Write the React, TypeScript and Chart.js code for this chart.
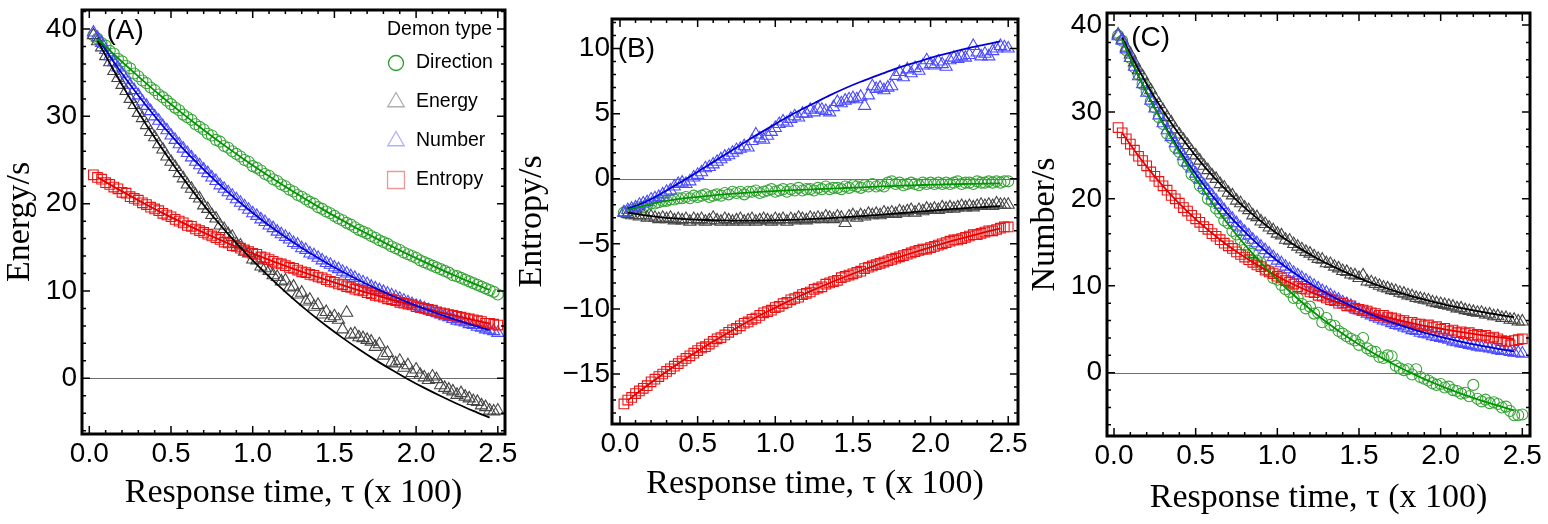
import React, { useEffect, useRef } from 'react';
import { Chart, registerables } from 'chart.js';

Chart.register(...registerables);

// ---------------- data ----------------
// response time grid of the simulated points (x 100)
const tau: number[] = Array.from({ length: 100 }, (_, i) => Math.round((i + 1) * 25) / 1000);
// grid on which the fitted curves are drawn
const fitTau = [0.05, 0.15, 0.25, 0.35, 0.45, 0.55, 0.65, 0.75, 0.85, 0.95, 1.05, 1.15, 1.25,
  1.35, 1.45, 1.55, 1.65, 1.75, 1.85, 1.95, 2.05, 2.15, 2.25, 2.35, 2.45];
const xTickValues = [0, 0.5, 1, 1.5, 2, 2.5];
const seriesNames = ['Direction', 'Energy', 'Number', 'Entropy'];
const legendTitle = 'Demon type';
const xAxisTitle = 'Response time, \u03C4 (x 100)';

// ---- Panel A : Energy/s ----
const ticksA = [0, 10, 20, 30, 40];
const directionA = [
  39.3, 38.9, 38.4, 38.1, 37.5, 37.2, 36.6, 36.3, 35.8, 35.5,
  34.9, 34.6, 34.1, 33.8, 33.3, 33.0, 32.5, 32.2, 31.8, 31.4,
  31.0, 30.7, 30.2, 29.9, 29.6, 29.1, 28.8, 28.5, 28.0, 27.8,
  27.3, 27.1, 26.6, 26.4, 26.0, 25.7, 25.4, 25.0, 24.8, 24.3,
  24.1, 23.8, 23.4, 23.2, 22.8, 22.6, 22.2, 22.0, 21.6, 21.4,
  21.0, 20.8, 20.5, 20.2, 20.0, 19.6, 19.4, 19.1, 18.9, 18.6,
  18.3, 18.1, 17.8, 17.6, 17.3, 17.0, 16.8, 16.6, 16.3, 16.1,
  15.8, 15.6, 15.4, 15.1, 14.9, 14.7, 14.4, 14.2, 14.0, 13.8,
  13.5, 13.3, 13.1, 12.9, 12.7, 12.5, 12.3, 12.1, 11.8, 11.7,
  11.5, 11.3, 11.1, 10.9, 10.7, 10.5, 10.3, 10.1, 9.9, 9.6];
const energyA = [
  39.3, 38.6, 37.9, 36.9, 36.2, 35.2, 34.4, 33.6, 32.9, 32.0,
  31.3, 30.4, 29.8, 29.0, 28.2, 27.6, 26.8, 26.2, 25.4, 24.8,
  24.2, 23.5, 22.9, 22.2, 21.7, 21.0, 20.6, 19.8, 19.4, 18.7,
  18.3, 17.5, 17.1, 16.5, 16.2, 15.4, 15.2, 14.5, 14.3, 13.6,
  13.5, 12.8, 12.6, 12.3, 11.8, 11.6, 11.1, 11.2, 10.4, 10.5,
  9.6, 9.8, 8.8, 9.0, 8.2, 8.4, 7.3, 7.6, 6.9, 7.1,
  6.7, 5.6, 7.5, 5.0, 5.1, 4.7, 4.6, 4.4, 4.2, 3.6,
  3.9, 2.6, 2.9, 1.8, 1.7, 2.0, 1.2, 1.5, 0.6, 1.0,
  0.4, 0.1, -0.2, 0.2, -0.1, -0.8, -1.1, -1.3, -1.5, -1.9,
  -1.7, -2.1, -2.3, -2.6, -2.7, -3.1, -3.3, -3.7, -3.8, -3.7];
const numberA = [
  39.6, 39.0, 38.4, 37.6, 36.9, 36.2, 35.6, 34.9, 34.2, 33.6,
  33.0, 32.4, 31.7, 31.2, 30.6, 30.0, 29.5, 28.9, 28.4, 27.8,
  27.3, 26.8, 26.3, 25.8, 25.3, 24.8, 24.4, 23.9, 23.5, 23.0,
  22.6, 22.1, 21.7, 21.3, 20.9, 20.5, 20.1, 19.7, 19.3, 18.9,
  18.6, 18.2, 17.9, 17.5, 17.2, 16.8, 16.5, 16.2, 15.9, 15.5,
  15.3, 14.9, 14.7, 14.3, 14.1, 13.8, 13.5, 13.2, 13.0, 12.7,
  12.5, 12.2, 12.0, 11.7, 11.5, 11.2, 11.0, 10.8, 10.5, 10.3,
  10.1, 9.9, 9.7, 9.5, 9.3, 9.1, 8.9, 8.7, 8.5, 8.3,
  8.2, 8.0, 7.8, 7.6, 7.5, 7.3, 7.1, 7.0, 6.8, 6.6,
  6.5, 6.4, 6.2, 6.1, 5.9, 5.8, 5.6, 5.5, 5.4, 5.2];
const entropyA = [
  23.3, 23.0, 22.8, 22.4, 22.2, 21.9, 21.7, 21.3, 21.2, 20.8,
  20.6, 20.4, 20.1, 19.9, 19.6, 19.4, 19.2, 18.9, 18.7, 18.5,
  18.2, 18.0, 17.8, 17.5, 17.4, 17.1, 16.9, 16.7, 16.5, 16.3,
  16.1, 15.9, 15.6, 15.5, 15.2, 15.1, 14.9, 14.7, 14.5, 14.3,
  14.2, 13.9, 13.8, 13.6, 13.4, 13.2, 13.1, 12.9, 12.7, 12.6,
  12.4, 12.2, 12.1, 11.9, 11.8, 11.6, 11.5, 11.3, 11.1, 11.0,
  10.8, 10.7, 10.5, 10.4, 10.2, 10.1, 10.0, 9.8, 9.7, 9.5,
  9.4, 9.3, 9.1, 9.0, 8.9, 8.7, 8.6, 8.5, 8.4, 8.2,
  8.1, 8.0, 7.9, 7.8, 7.6, 7.5, 7.4, 7.3, 7.2, 7.1,
  7.0, 6.9, 6.8, 6.7, 6.6, 6.5, 6.3, 6.3, 6.2, 6.1];
const directionFitA = [38.89, 37.11, 35.40, 33.75, 32.16, 30.63, 29.15, 27.73, 26.36, 25.04, 23.77, 22.54, 21.36,
  20.22, 19.12, 18.07, 17.05, 16.07, 15.12, 14.20, 13.33, 12.48, 11.66, 10.88, 10.11];
const energyFitA = [38.69, 35.25, 32.03, 29.00, 26.17, 23.52, 21.03, 18.70, 16.52, 14.47, 12.55, 10.76, 9.07,
  7.49, 6.01, 4.63, 3.33, 2.11, 0.97, -0.10, -1.10, -2.03, -2.91, -3.73, -4.51];
const numberFitA = [39.02, 36.22, 33.61, 31.18, 28.91, 26.80, 24.83, 23.00, 21.29, 19.70, 18.22, 16.84, 15.55,
  14.35, 13.24, 12.20, 11.23, 10.32, 9.48, 8.70, 7.97, 7.29, 6.65, 6.06, 5.51];
const entropyFitA = [23.03, 21.94, 20.89, 19.88, 18.92, 18.00, 17.11, 16.27, 15.46, 14.68, 13.94, 13.22, 12.54,
  11.89, 11.26, 10.66, 10.08, 9.53, 9.01, 8.50, 8.02, 7.55, 7.11, 6.68, 6.28];

// ---- Panel B : Entropy/s ----
const ticksB = [-15, -10, -5, 0, 5, 10];
const directionB = [
  -2.6, -2.5, -2.4, -2.3, -2.2, -2.2, -2.0, -1.9, -1.9, -1.8,
  -1.7, -1.7, -1.6, -1.6, -1.5, -1.5, -1.4, -1.5, -1.3, -1.4,
  -1.3, -1.2, -1.4, -1.3, -1.2, -1.3, -1.1, -1.2, -1.0, -1.1,
  -1.0, -1.2, -1.0, -1.0, -0.9, -1.1, -1.0, -0.9, -0.8, -1.0,
  -0.9, -0.8, -1.0, -0.8, -0.9, -0.7, -0.9, -0.8, -0.8, -0.9,
  -0.7, -0.8, -0.6, -0.8, -0.7, -0.7, -0.8, -0.6, -0.7, -0.5,
  -0.6, -0.7, -0.5, -0.6, -0.4, -0.6, -0.5, -0.6, -0.3, -0.2,
  -0.4, -0.3, -0.5, -0.4, -0.3, -0.4, -0.5, -0.3, -0.4, -0.3,
  -0.4, -0.3, -0.4, -0.3, -0.4, -0.3, -0.2, -0.4, -0.3, -0.3,
  -0.4, -0.2, -0.3, -0.3, -0.2, -0.3, -0.2, -0.3, -0.2, -0.2];
const energyB = [
  -2.6, -2.7, -2.8, -2.8, -2.9, -2.8, -3.0, -2.9, -3.0, -3.1,
  -3.0, -3.1, -3.0, -3.2, -3.1, -3.2, -3.1, -3.3, -3.1, -3.2,
  -3.1, -3.3, -3.2, -3.0, -3.2, -3.3, -3.1, -3.2, -3.3, -3.2,
  -3.1, -3.3, -3.2, -3.1, -3.3, -3.2, -3.1, -3.2, -3.3, -3.1,
  -3.2, -3.1, -3.3, -3.1, -3.2, -3.0, -3.1, -3.2, -3.0, -3.1,
  -3.0, -3.1, -2.9, -3.0, -3.1, -2.9, -3.0, -3.4, -2.9, -2.8,
  -3.0, -2.8, -2.9, -2.7, -2.8, -2.7, -2.8, -2.6, -2.7, -2.6,
  -2.7, -2.5, -2.6, -2.5, -2.4, -2.6, -2.4, -2.5, -2.3, -2.4,
  -2.3, -2.4, -2.2, -2.3, -2.2, -2.3, -2.2, -2.1, -2.2, -2.1,
  -2.2, -2.1, -2.0, -2.1, -2.0, -2.1, -1.9, -2.0, -2.0, -2.0];
const numberB = [
  -2.6, -2.4, -2.3, -2.2, -2.0, -1.9, -1.8, -1.6, -1.5, -1.4,
  -1.2, -1.0, -0.9, -0.6, -0.4, -0.3, -0.4, -0.2, 0.1, 0.3,
  0.5, 0.8, 0.9, 1.1, 1.3, 1.5, 1.7, 1.8, 2.0, 2.2,
  2.3, 2.5, 2.4, 2.9, 3.4, 3.1, 3.0, 3.3, 3.6, 3.9,
  4.2, 4.4, 4.3, 4.6, 4.8, 4.7, 5.0, 5.0, 5.3, 5.1,
  5.4, 5.3, 5.2, 5.1, 5.5, 5.9, 5.8, 6.0, 6.1, 6.2,
  6.1, 6.3, 5.6, 6.4, 7.1, 6.9, 7.0, 6.8, 7.0, 7.1,
  7.9, 8.2, 7.8, 8.4, 8.1, 8.5, 8.3, 8.7, 9.1, 8.8,
  8.7, 9.0, 8.8, 8.6, 9.1, 9.3, 9.2, 9.4, 9.3, 9.5,
  10.2, 9.7, 9.4, 9.6, 9.4, 9.8, 10.0, 10.2, 10.1, 10.0];
const entropyB = [
  -17.3, -17.0, -16.8, -16.5, -16.3, -16.1, -15.9, -15.6, -15.4, -15.2,
  -15.0, -14.8, -14.6, -14.4, -14.2, -14.0, -13.8, -13.6, -13.4, -13.2,
  -13.0, -12.9, -12.7, -12.5, -12.3, -12.2, -12.0, -11.8, -11.6, -11.5,
  -11.3, -11.1, -11.0, -10.8, -10.7, -10.5, -10.3, -10.2, -10.1, -9.9,
  -9.8, -9.6, -9.5, -9.3, -9.2, -9.1, -8.9, -8.8, -8.7, -8.5,
  -8.4, -8.3, -8.1, -8.0, -7.9, -7.8, -7.6, -7.5, -7.4, -7.3,
  -7.2, -7.1, -6.9, -6.8, -6.7, -6.6, -6.5, -6.4, -6.3, -6.2,
  -6.1, -6.0, -5.9, -5.8, -5.7, -5.6, -5.5, -5.4, -5.4, -5.3,
  -5.2, -5.1, -5.0, -4.9, -4.8, -4.7, -4.7, -4.6, -4.5, -4.4,
  -4.3, -4.3, -4.2, -4.1, -4.0, -4.0, -3.9, -3.8, -3.7, -3.7];
const directionFitB = [-2.40, -2.10, -1.80, -1.60, -1.45, -1.33, -1.22, -1.12, -1.04, -0.97, -0.91, -0.86, -0.81,
  -0.76, -0.71, -0.66, -0.61, -0.56, -0.52, -0.48, -0.45, -0.42, -0.40, -0.38, -0.36];
const energyFitB = [-2.60, -2.80, -2.95, -3.05, -3.12, -3.17, -3.20, -3.22, -3.22, -3.21, -3.18, -3.14, -3.09,
  -3.03, -2.96, -2.88, -2.79, -2.70, -2.60, -2.50, -2.41, -2.32, -2.24, -2.17, -2.10];
const numberFitB = [-2.30, -1.85, -1.25, -0.55, 0.15, 0.90, 1.65, 2.40, 3.15, 3.85, 4.55, 5.20, 5.80,
  6.40, 6.95, 7.45, 7.90, 8.35, 8.75, 9.10, 9.45, 9.75, 10.05, 10.30, 10.55];
const entropyFitB = [-17.02, -16.11, -15.23, -14.40, -13.61, -12.86, -12.15, -11.46, -10.81, -10.20, -9.61, -9.05, -8.52,
  -8.01, -7.53, -7.07, -6.63, -6.22, -5.82, -5.44, -5.08, -4.74, -4.42, -4.11, -3.81];

// ---- Panel C : Number/s ----
const ticksC = [0, 10, 20, 30, 40];
const directionC = [
  38.8, 38.2, 37.1, 36.2, 35.1, 34.3, 33.2, 32.4, 31.2, 30.5,
  29.4, 28.6, 27.5, 27.0, 25.9, 25.4, 24.3, 23.9, 22.8, 22.5,
  21.5, 21.1, 20.0, 19.7, 18.9, 18.4, 17.5, 17.2, 16.3, 15.9,
  15.3, 14.7, 14.0, 13.7, 12.9, 12.6, 11.9, 11.7, 10.9, 10.7,
  10.1, 9.6, 9.3, 8.6, 8.6, 7.9, 7.4, 7.6, 6.8, 6.9,
  5.8, 6.3, 5.5, 5.4, 4.8, 4.5, 4.2, 3.9, 3.7, 3.2,
  4.0, 2.8, 2.5, 2.4, 1.8, 1.7, 2.0, 1.9, 0.8, 0.5,
  0.3, 0.4, -0.2, 0.4, -0.5, -0.7, -0.9, -1.2, -1.4, -1.3,
  -1.7, -1.6, -2.0, -2.1, -2.4, -2.3, -2.7, -1.4, -3.0, -3.3,
  -3.1, -3.5, -3.4, -3.6, -4.0, -3.9, -4.4, -4.9, -4.9, -4.8];
const energyC = [
  38.9, 38.3, 37.4, 36.6, 35.7, 34.8, 34.1, 33.2, 32.5, 31.6,
  30.9, 30.2, 29.4, 28.8, 28.0, 27.4, 26.8, 26.2, 25.5, 25.0,
  24.4, 23.8, 23.3, 22.7, 22.3, 21.7, 21.3, 20.7, 20.4, 19.8,
  19.5, 19.0, 18.7, 18.1, 17.9, 17.4, 17.1, 16.7, 16.4, 16.0,
  15.8, 15.3, 15.2, 14.8, 14.5, 14.2, 13.9, 13.7, 13.4, 13.1,
  13.0, 12.6, 12.5, 12.2, 12.0, 11.7, 11.6, 11.3, 11.2, 10.9,
  11.2, 10.5, 10.4, 10.2, 10.0, 9.8, 9.7, 9.5, 9.4, 9.2,
  9.1, 8.9, 8.8, 8.6, 8.5, 8.4, 8.3, 8.1, 8.0, 7.9,
  7.8, 7.7, 7.6, 7.4, 7.4, 7.2, 7.1, 7.0, 6.9, 6.9,
  6.7, 6.7, 6.5, 6.5, 6.3, 6.3, 6.1, 6.1, 5.9, 5.9];
const numberC = [
  38.7, 38.2, 37.2, 36.2, 35.2, 34.1, 33.2, 32.2, 31.3, 30.4,
  29.6, 28.7, 27.9, 27.1, 26.4, 25.6, 24.9, 24.2, 23.5, 22.9,
  22.2, 21.6, 21.0, 20.4, 19.8, 19.3, 18.7, 18.2, 17.7, 17.2,
  16.7, 16.2, 15.8, 15.3, 14.9, 14.5, 14.1, 13.7, 13.3, 12.9,
  12.6, 12.2, 11.9, 11.5, 11.2, 10.9, 10.6, 10.3, 10.0, 9.7,
  9.4, 9.2, 8.9, 8.6, 8.4, 8.1, 7.9, 7.7, 7.4, 7.2,
  7.0, 6.8, 6.6, 6.4, 6.2, 6.0, 5.9, 5.7, 5.5, 5.4,
  5.2, 5.1, 4.9, 4.8, 4.6, 4.5, 4.4, 4.2, 4.1, 4.0,
  3.9, 3.8, 3.6, 3.5, 3.4, 3.3, 3.2, 3.1, 3.0, 2.9,
  2.9, 2.8, 2.7, 2.6, 2.5, 2.5, 2.4, 2.3, 2.3, 2.2];
const entropyC = [
  28.2, 27.6, 26.9, 26.3, 25.6, 24.9, 24.4, 23.8, 23.1, 22.6,
  22.0, 21.5, 21.0, 20.4, 20.0, 19.5, 19.0, 18.6, 18.1, 17.7,
  17.3, 16.8, 16.5, 16.0, 15.7, 15.3, 14.9, 14.6, 14.3, 13.9,
  13.6, 13.3, 13.0, 12.7, 12.4, 12.2, 11.8, 11.6, 11.4, 11.1,
  10.9, 10.6, 10.4, 10.2, 9.9, 9.7, 9.6, 9.3, 9.2, 8.9,
  8.8, 8.6, 8.4, 8.3, 8.0, 8.0, 7.7, 7.7, 7.4, 7.3,
  7.2, 7.1, 6.9, 6.8, 6.6, 6.6, 6.4, 6.3, 6.2, 6.0,
  6.0, 5.8, 5.8, 5.6, 5.6, 5.4, 5.5, 5.2, 5.3, 5.0,
  5.1, 4.8, 4.9, 4.6, 4.7, 4.5, 4.6, 4.3, 4.4, 4.2,
  4.3, 4.0, 4.1, 3.9, 3.7, 3.6, 3.2, 3.7, 3.8, 3.9];
const directionFitC = [38.30, 34.18, 30.41, 26.96, 23.80, 20.92, 18.28, 15.87, 13.66, 11.64, 9.80, 8.10, 6.56,
  5.15, 3.85, 2.67, 1.59, 0.60, -0.30, -1.13, -1.89, -2.58, -3.21, -3.79, -4.33];
const energyFitC = [38.53, 34.89, 31.64, 28.73, 26.13, 23.80, 21.72, 19.85, 18.18, 16.69, 15.36, 14.16, 13.09,
  12.14, 11.28, 10.51, 9.83, 9.22, 8.66, 8.18, 7.73, 7.34, 6.99, 6.68, 6.39];
const numberFitC = [38.25, 34.11, 30.43, 27.14, 24.20, 21.59, 19.25, 17.17, 15.32, 13.66, 12.18, 10.87, 9.69,
  8.64, 7.71, 6.88, 6.13, 5.47, 4.88, 4.35, 3.88, 3.46, 3.09, 2.75, 2.45];
const entropyFitC = [27.57, 24.93, 22.56, 20.44, 18.54, 16.83, 15.30, 13.93, 12.70, 11.60, 10.61, 9.72, 8.92,
  8.21, 7.57, 6.99, 6.48, 6.01, 5.60, 5.23, 4.90, 4.60, 4.33, 4.09, 3.87];

// ---------------- styles ----------------
const SANS = '"Liberation Sans", Arial, Helvetica, sans-serif';
const SERIF = '"Liberation Serif", "Times New Roman", serif';
const STYLES = [
  { point: 'circle', radius: 5.5, mark: 'rgb(55,165,55)', line: 'rgb(0,150,0)', legend: 'rgb(40,160,40)', legendR: 7.5 },
  { point: 'triangle', radius: 7, mark: 'rgb(70,70,70)', line: 'rgb(0,0,0)', legend: 'rgb(175,175,175)', legendR: 9.5 },
  { point: 'triangle', radius: 7, mark: 'rgb(75,75,255)', line: 'rgb(0,0,215)', legend: 'rgb(175,175,255)', legendR: 9.5 },
  { point: 'rect', radius: 6.8, mark: 'rgb(235,20,20)', line: 'rgb(230,0,0)', legend: 'rgb(240,150,150)', legendR: 12 },
];

const PANELS = [
  {
    key: 'A', canvasLeft: 0, canvasWidth: 525,
    area: { left: 82, right: 505, top: 10, bottom: 434 },
    xMin: -0.0447, xMax: 2.544, yMin: -6.38, yMax: 42.18,
    yTicks: ticksA, yMinor: 2, yMajor: 10, yTitle: 'Energy/s', labelPad: 5, xTitlePad: 11,
    points: [directionA, energyA, numberA, entropyA],
    fits: [directionFitA, energyFitA, numberFitA, entropyFitA],
    tag: '(A)', tagX: 0.105, tagY: 39.7, legend: true,
  },
  {
    key: 'B', canvasLeft: 512, canvasWidth: 525,
    area: { left: 612, right: 1018, top: 19, bottom: 424 },
    xMin: -0.0515, xMax: 2.563, yMin: -18.84, yMax: 12.27,
    yTicks: ticksB, yMinor: 1, yMajor: 5, yTitle: 'Entropy/s', labelPad: 2, xTitlePad: 20,
    points: [directionB, energyB, numberB, entropyB],
    fits: [directionFitB, energyFitB, numberFitB, entropyFitB],
    tag: '(B)', tagX: -0.015, tagY: 9.95, legend: false,
  },
  {
    key: 'C', canvasLeft: 1025, canvasWidth: 523,
    area: { left: 1107, right: 1530, top: 13, bottom: 436 },
    xMin: -0.0429, xMax: 2.547, yMin: -7.28, yMax: 41.38,
    yTicks: ticksC, yMinor: 2, yMajor: 10, yTitle: 'Number/s', labelPad: 5, xTitlePad: 6,
    points: [directionC, energyC, numberC, entropyC],
    fits: [directionFitC, energyFitC, numberFitC, entropyFitC],
    tag: '(C)', tagX: 0.105, tagY: 38.5, legend: false,
  },
];

const HEIGHT = 524;

function drawMarker(ctx: CanvasRenderingContext2D, style: string, x: number, y: number, r: number) {
  ctx.beginPath();
  if (style === 'circle') {
    ctx.arc(x, y, r, 0, Math.PI * 2);
  } else if (style === 'triangle') {
    const s = Math.sin(Math.PI / 3) * r;
    ctx.moveTo(x, y - r);
    ctx.lineTo(x + s, y + r / 2);
    ctx.lineTo(x - s, y + r / 2);
    ctx.closePath();
  } else {
    const h = r * Math.SQRT1_2;
    ctx.rect(x - h, y - h, 2 * h, 2 * h);
  }
  ctx.stroke();
}

const panelDecor = {
  id: 'panelDecor',
  beforeDatasetsDraw(chart: any) {
    const { ctx, chartArea: a } = chart;
    const y0 = Math.round(chart.scales.y.getPixelForValue(0)) + 0.5;
    ctx.save();
    ctx.strokeStyle = 'rgb(110,110,110)';
    ctx.lineWidth = 1;
    ctx.beginPath();
    ctx.moveTo(a.left, y0);
    ctx.lineTo(a.right, y0);
    ctx.stroke();
    ctx.restore();
  },
  afterDatasetsDraw(chart: any, _args: any, o: any) {
    const { ctx, chartArea: a } = chart;
    const xs = chart.scales.x;
    const ys = chart.scales.y;
    ctx.save();
    ctx.strokeStyle = '#000';
    ctx.lineWidth = 1.5;
    ctx.beginPath();
    for (let i = Math.ceil(xs.min * 10 - 1e-6); i <= Math.floor(xs.max * 10 + 1e-6); i++) {
      const px = xs.getPixelForValue(i / 10);
      const len = i % 5 === 0 ? 8 : 4;
      ctx.moveTo(px, a.bottom);
      ctx.lineTo(px, a.bottom - len);
      ctx.moveTo(px, a.top);
      ctx.lineTo(px, a.top + len);
    }
    for (let i = Math.ceil(ys.min / o.yMinor); i <= Math.floor(ys.max / o.yMinor); i++) {
      const v = i * o.yMinor;
      const py = ys.getPixelForValue(v);
      const len = Math.abs(v % o.yMajor) < 1e-9 ? 8 : 4;
      ctx.moveTo(a.left, py);
      ctx.lineTo(a.left + len, py);
      ctx.moveTo(a.right, py);
      ctx.lineTo(a.right - len, py);
    }
    ctx.stroke();
    ctx.lineWidth = 3;
    ctx.strokeRect(a.left, a.top, a.right - a.left, a.bottom - a.top);

    ctx.fillStyle = '#000';
    ctx.font = `28px ${SANS}`;
    ctx.textAlign = 'left';
    ctx.textBaseline = 'middle';
    ctx.fillText(o.tag, xs.getPixelForValue(o.tagX), ys.getPixelForValue(o.tagY));

    if (o.legend) {
      const titleX = a.right - 118;
      const markX = a.right - 109;
      const textX = a.right - 89;
      ctx.font = `19.5px ${SANS}`;
      ctx.fillText(legendTitle, titleX, a.top + 20);
      const rows = [53, 92, 131, 170];
      seriesNames.forEach((name, s) => {
        const yy = a.top + rows[s];
        ctx.strokeStyle = STYLES[s].legend;
        ctx.lineWidth = 1.3;
        drawMarker(ctx, STYLES[s].point, markX, yy, STYLES[s].legendR);
        ctx.fillStyle = '#000';
        ctx.fillText(name, textX, yy);
      });
    }
    ctx.restore();
  },
};

function buildConfig(p: any): any {
  const datasets: any[] = [];
  p.fits.forEach((vals: number[], s: number) => {
    datasets.push({
      label: seriesNames[s] + ' fit',
      data: fitTau.map((t, i) => ({ x: t, y: vals[i] })),
      showLine: true,
      borderColor: STYLES[s].line,
      backgroundColor: STYLES[s].line,
      borderWidth: 1.8,
      pointRadius: 0,
      fill: false,
      cubicInterpolationMode: 'monotone',
      order: 0,
    });
  });
  p.points.forEach((vals: number[], s: number) => {
    datasets.push({
      label: seriesNames[s],
      data: tau.map((t, i) => ({ x: t, y: vals[i] })),
      showLine: false,
      pointStyle: STYLES[s].point,
      pointRadius: STYLES[s].radius,
      pointBorderWidth: 1.1,
      borderWidth: 1.1,
      borderColor: STYLES[s].mark,
      pointBorderColor: STYLES[s].mark,
      backgroundColor: 'rgba(0,0,0,0)',
      pointBackgroundColor: 'rgba(0,0,0,0)',
      order: 4 - s,
    });
  });

  const yWidth = p.area.left - p.canvasLeft;
  const padRight = p.canvasLeft + p.canvasWidth - p.area.right;
  const xHeight = HEIGHT - p.area.bottom;

  return {
    type: 'scatter',
    data: { datasets },
    plugins: [panelDecor],
    options: {
      animation: false,
      responsive: false,
      maintainAspectRatio: false,
      devicePixelRatio: 1,
      events: [],
      layout: { padding: { left: 0, right: padRight, top: p.area.top, bottom: 0 } },
      plugins: {
        legend: { display: false },
        tooltip: { enabled: false },
        panelDecor: { tag: p.tag, tagX: p.tagX, tagY: p.tagY, legend: p.legend, yMinor: p.yMinor, yMajor: p.yMajor },
      },
      scales: {
        x: {
          type: 'linear',
          min: p.xMin,
          max: p.xMax,
          afterBuildTicks: (s: any) => { s.ticks = xTickValues.map((v) => ({ value: v })); },
          afterFit: (s: any) => { s.height = xHeight; s.paddingLeft = 0; s.paddingRight = 0; },
          grid: { display: false, drawTicks: false, tickLength: 0 },
          border: { display: false },
          ticks: {
            color: '#000',
            padding: 3,
            maxRotation: 0,
            autoSkip: false,
            font: { family: SANS, size: 28 },
            callback: (v: any) => Number(v).toFixed(1),
          },
          title: {
            display: true,
            text: xAxisTitle,
            color: '#000',
            font: { family: SERIF, size: 34 },
            padding: { top: 0, bottom: p.xTitlePad },
          },
        },
        y: {
          type: 'linear',
          min: p.yMin,
          max: p.yMax,
          afterBuildTicks: (s: any) => { s.ticks = p.yTicks.map((v: number) => ({ value: v })); },
          afterFit: (s: any) => { s.width = yWidth; s.paddingTop = 0; s.paddingBottom = 0; },
          grid: { display: false, drawTicks: false, tickLength: 0 },
          border: { display: false },
          ticks: {
            color: '#000',
            padding: p.labelPad,
            autoSkip: false,
            font: { family: SANS, size: 28 },
            callback: (v: any) => (Number(v) < 0 ? '\u2212' + Math.abs(Number(v)) : String(v)),
          },
          title: {
            display: true,
            text: p.yTitle,
            color: '#000',
            font: { family: SERIF, size: 34 },
            padding: { top: 0, bottom: 0 },
          },
        },
      },
    },
  };
}

function Panel({ spec }: { spec: any }) {
  const ref = useRef<HTMLCanvasElement | null>(null);
  useEffect(() => {
    if (!ref.current) return;
    const chart = new Chart(ref.current, buildConfig(spec));
    return () => chart.destroy();
  }, [spec]);
  return (
    <canvas
      ref={ref}
      width={spec.canvasWidth}
      height={HEIGHT}
      style={{ position: 'absolute', left: spec.canvasLeft, top: 0, width: spec.canvasWidth, height: HEIGHT }}
    />
  );
}

export default function App() {
  return (
    <div style={{ position: 'absolute', left: 0, top: 0, width: 1548, height: HEIGHT, background: '#fff', overflow: 'hidden' }}>
      {PANELS.map((p) => (
        <Panel key={p.key} spec={p} />
      ))}
    </div>
  );
}
